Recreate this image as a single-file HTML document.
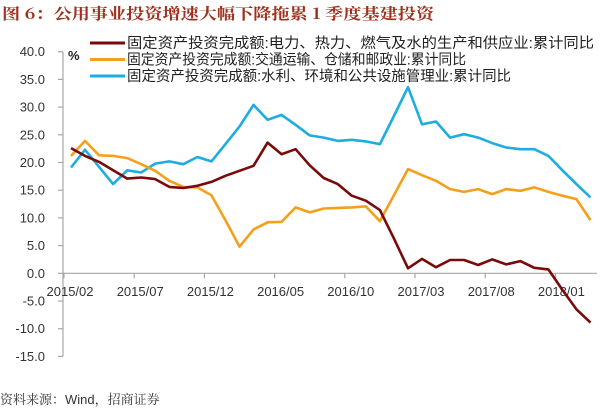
<!DOCTYPE html>
<html><head><meta charset="utf-8"><style>
html,body{margin:0;padding:0;background:#fff;}
svg{display:block;}
</style></head><body>
<svg id="c" width="600" height="412" xmlns="http://www.w3.org/2000/svg">
<text x="2" y="19" font-family="'Noto Serif CJK SC',serif" font-weight="bold" font-size="15.5" fill="#A0301C" textLength="432" lengthAdjust="spacingAndGlyphs">图 6：公用事业投资增速大幅下降拖累 1 季度基建投资</text>
<g font-family="'Liberation Sans','Noto Sans CJK SC',sans-serif" font-size="14.5" fill="#222">
<line x1="90" y1="43" x2="125" y2="43" stroke="#7A0A0A" stroke-width="3"/>
<text x="127" y="48" textLength="467" lengthAdjust="spacingAndGlyphs">固定资产投资完成额:电力、热力、燃气及水的生产和供应业:累计同比</text>
<line x1="90" y1="59.5" x2="125" y2="59.5" stroke="#F5A01A" stroke-width="3"/>
<text x="127" y="64.5" textLength="339" lengthAdjust="spacingAndGlyphs">固定资产投资完成额:交通运输、仓储和邮政业:累计同比</text>
<line x1="90" y1="76" x2="125" y2="76" stroke="#1EADE0" stroke-width="3"/>
<text x="127" y="81" textLength="384" lengthAdjust="spacingAndGlyphs">固定资产投资完成额:水利、环境和公共设施管理业:累计同比</text>
</g>
<text x="68" y="60" font-family="'Liberation Sans',sans-serif" font-size="13" font-weight="bold" fill="#222">%</text>
<g id="ax" stroke="#A8A8A8" stroke-width="1.2" fill="none"></g>
<g id="lbl" font-family="'Liberation Sans',sans-serif" font-size="13" fill="#333"></g>
<g id="ser" fill="none" stroke-width="2.6" stroke-linejoin="round"></g>
<text x="0" y="404" font-family="'Liberation Sans','Noto Serif CJK SC',serif" font-size="13" fill="#333">资料来源：Wind，招商证券</text>
</svg>
<script>
var NS="http://www.w3.org/2000/svg";
function el(p,t,a,txt){var e=document.createElementNS(NS,t);for(var k in a)e.setAttribute(k,a[k]);if(txt!=null)e.textContent=txt;p.appendChild(e);return e;}
function Y(v){return 273.3-v*5.54;}
function X(i){return 71+14.04*i;}
var ax=document.getElementById('ax'),lb=document.getElementById('lbl'),se=document.getElementById('ser');
el(ax,'line',{x1:63,y1:Y(40),x2:63,y2:Y(-15)});
el(ax,'line',{x1:63,y1:Y(0),x2:597,y2:Y(0)});
for(var v=-15;v<=40;v+=5){el(ax,'line',{x1:58,y1:Y(v),x2:63,y2:Y(v)});
 el(lb,'text',{x:45,y:Y(v)+4.5,'text-anchor':'end'},v.toFixed(1));}
var labs=['2015/02','2015/07','2015/12','2016/05','2016/10','2017/03','2017/08','2018/01'];
for(var k=0;k<8;k++){var tx=64+70.2*k;el(ax,'line',{x1:tx,y1:Y(0),x2:tx,y2:Y(0)+5});
 el(lb,'text',{x:tx+6,y:296,'text-anchor':'middle'},labs[k]);}
var red=[22.6,21.2,20.1,18.6,17.1,17.3,17.0,15.6,15.4,15.8,16.5,17.6,18.5,19.4,23.6,21.5,22.4,19.5,17.2,16.1,14.0,13.1,11.4,6.3,0.9,2.6,1.1,2.4,2.4,1.5,2.5,1.6,2.2,1.0,0.7,-3.0,-6.5,-8.9];
var ora=[21.2,23.9,21.3,21.2,20.8,19.7,18.5,16.7,15.6,15.5,14.1,9.6,4.8,7.9,9.2,9.3,11.9,11.0,11.7,11.8,11.9,12.1,9.4,14.1,18.8,17.7,16.7,15.2,14.7,15.2,14.3,15.2,14.9,15.5,14.7,14.0,13.4,9.6];
var blu=[19.1,22.3,19.2,16.1,18.6,18.2,19.8,20.2,19.7,21.0,20.2,23.3,26.5,30.4,27.7,28.6,26.8,24.9,24.5,23.9,24.1,23.8,23.3,28.4,33.6,26.9,27.4,24.5,25.1,24.5,23.5,22.7,22.4,22.4,21.2,18.6,16.1,13.7];
function pl(d,c){el(se,'polyline',{stroke:c,points:d.map(function(v,i){return X(i).toFixed(1)+','+Y(v).toFixed(1);}).join(' ')});}
pl(blu,'#1EADE0');pl(ora,'#F5A01A');pl(red,'#7A0A0A');
</script>
</body></html>
